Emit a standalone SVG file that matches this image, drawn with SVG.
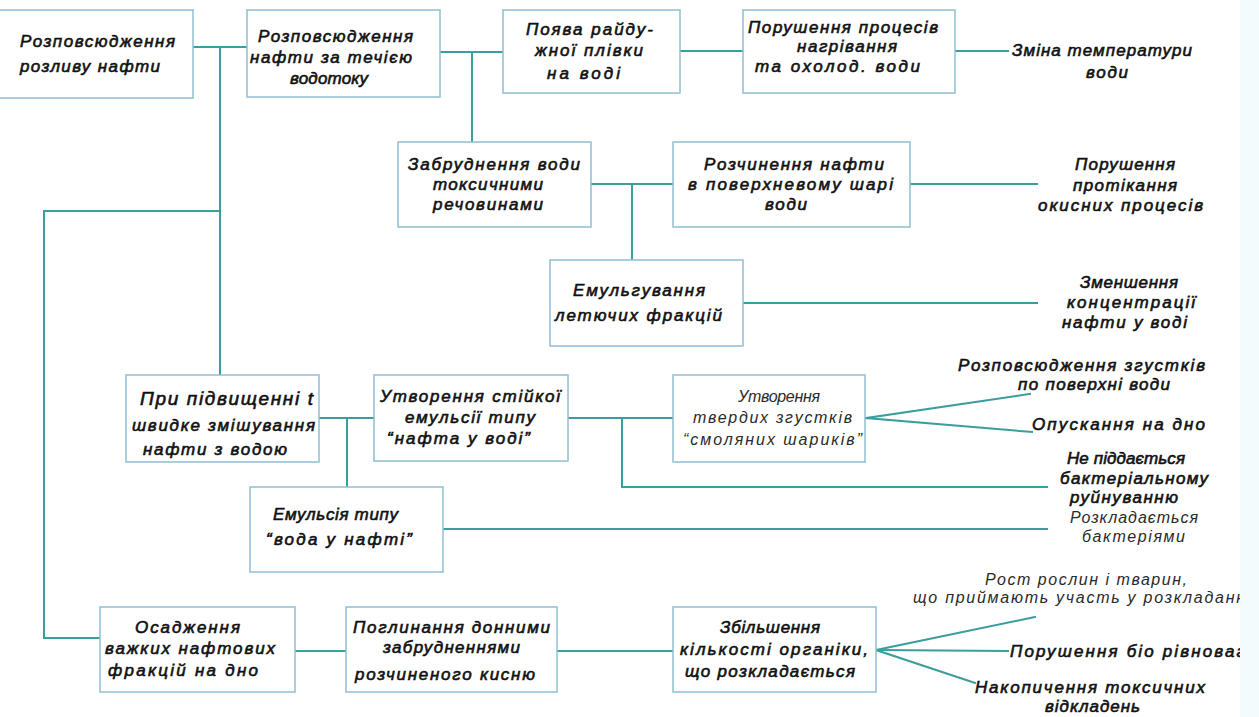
<svg xmlns="http://www.w3.org/2000/svg" width="1259" height="717" viewBox="0 0 1259 717">
  <style>
    .box { fill: #ffffff; stroke: #8fbfd0; stroke-width: 1.5; }
    .ln { fill: none; stroke: #3a9e9c; stroke-width: 2; stroke-linecap: square; }
    text { font-family: "Liberation Sans", Arial, sans-serif; font-style: italic; font-size: 17px; fill: #111; stroke: #111; stroke-width: 0.6; }
    .thin { fill: #2a2a2a; stroke: none; font-size: 16px; }
    .big { font-size: 19px; }
  </style>
  <rect width="1259" height="717" fill="#ffffff"/>

  <!-- connectors -->
  <g id="connectors" class="ln">
    <polyline points="193,47 247,47"/>
    <polyline points="220,47 220,375"/>
    <polyline points="220,211 44,211 44,638 100,638"/>
    <polyline points="440,52 503,52"/>
    <polyline points="472,52 472,142"/>
    <polyline points="680,51 743,51"/>
    <polyline points="955,51 1008,51"/>
    <polyline points="591,184 673,184"/>
    <polyline points="632,184 632,260"/>
    <polyline points="910,184 1037,184"/>
    <polyline points="743,303 1037,303"/>
    <polyline points="319,418 374,418"/>
    <polyline points="347,418 347,487"/>
    <polyline points="568,418 673,418"/>
    <polyline points="622,418 622,487 1047,487"/>
    <polyline points="866,418 1030,394"/>
    <polyline points="866,418 1032,432"/>
    <polyline points="443,529 1047,529"/>
    <polyline points="295,651 346,651"/>
    <polyline points="557,651 673,651"/>
    <polyline points="876,650 1035,617"/>
    <polyline points="876,650 1008,651"/>
    <polyline points="876,650 975,683"/>
  </g>

  <g id="spill">
    <rect class="box" x="-2" y="10" width="195" height="88"/>
    <text x="20" y="47" textLength="155" lengthAdjust="spacing">Розповсюдження</text>
    <text x="20" y="72" textLength="140" lengthAdjust="spacing">розливу нафти</text>
  </g>

  <g id="flow">
    <rect class="box" x="247" y="10" width="193" height="87"/>
    <text x="258" y="42" textLength="155" lengthAdjust="spacing">Розповсюдження</text>
    <text x="250" y="63" textLength="162" lengthAdjust="spacing">нафти за течією</text>
    <text x="290" y="84" textLength="78" lengthAdjust="spacing">водотоку</text>
  </g>

  <g id="film">
    <rect class="box" x="503" y="10" width="177" height="83"/>
    <text x="526" y="35" textLength="127" lengthAdjust="spacing">Поява райду-</text>
    <text x="535" y="56" textLength="108" lengthAdjust="spacing">жної плівки</text>
    <text x="547" y="79" textLength="73" lengthAdjust="spacing">на воді</text>
  </g>

  <g id="heat">
    <rect class="box" x="743" y="10" width="212" height="83"/>
    <text x="748" y="33" textLength="190" lengthAdjust="spacing">Порушення процесів</text>
    <text x="797" y="52" textLength="100" lengthAdjust="spacing">нагрівання</text>
    <text x="755" y="72" textLength="165" lengthAdjust="spacing">та охолод. води</text>
  </g>

  <g id="temp">
    <text x="1012" y="56" textLength="180" lengthAdjust="spacing">Зміна температури</text>
    <text x="1086" y="78" textLength="42" lengthAdjust="spacing">води</text>
  </g>

  <g id="toxic">
    <rect class="box" x="398" y="142" width="193" height="85"/>
    <text x="408" y="170" textLength="172" lengthAdjust="spacing">Забруднення води</text>
    <text x="433" y="190" textLength="110" lengthAdjust="spacing">токсичними</text>
    <text x="433" y="210" textLength="110" lengthAdjust="spacing">речовинами</text>
  </g>

  <g id="dissolve">
    <rect class="box" x="673" y="142" width="237" height="85"/>
    <text x="704" y="170" textLength="180" lengthAdjust="spacing">Розчинення нафти</text>
    <text x="688" y="190" textLength="205" lengthAdjust="spacing">в поверхневому шарі</text>
    <text x="765" y="210" textLength="42" lengthAdjust="spacing">води</text>
  </g>

  <g id="oxid">
    <text x="1075" y="170" textLength="100" lengthAdjust="spacing">Порушення</text>
    <text x="1073" y="191" textLength="104" lengthAdjust="spacing">протікання</text>
    <text x="1038" y="211" textLength="165" lengthAdjust="spacing">окисних процесів</text>
  </g>

  <g id="emulsify">
    <rect class="box" x="550" y="260" width="193" height="86"/>
    <text x="573" y="296" textLength="132" lengthAdjust="spacing">Емульгування</text>
    <text x="555" y="321" textLength="167" lengthAdjust="spacing">летючих фракцій</text>
  </g>

  <g id="conc">
    <text x="1080" y="288" textLength="98" lengthAdjust="spacing">Зменшення</text>
    <text x="1067" y="308" textLength="128" lengthAdjust="spacing">концентрації</text>
    <text x="1062" y="328" textLength="125" lengthAdjust="spacing">нафти у воді</text>
  </g>

  <g id="mixing">
    <rect class="box" x="126" y="375" width="193" height="87"/>
    <text class="big" x="140" y="405" textLength="173" lengthAdjust="spacing">При підвищенні t</text>
    <text x="132" y="431" textLength="183" lengthAdjust="spacing">швидке змішування</text>
    <text x="143" y="455" textLength="144" lengthAdjust="spacing">нафти з водою</text>
  </g>

  <g id="oil-in-water">
    <rect class="box" x="374" y="375" width="194" height="86"/>
    <text x="380" y="402" textLength="180" lengthAdjust="spacing">Утворення стійкої</text>
    <text x="405" y="423" textLength="130" lengthAdjust="spacing">емульсії типу</text>
    <text x="387" y="444" textLength="143" lengthAdjust="spacing">“нафта у воді”</text>
  </g>

  <g id="tar-balls">
    <rect class="box" x="673" y="375" width="192" height="87"/>
    <text class="thin" x="738" y="402" textLength="82" lengthAdjust="spacing">Утворення</text>
    <text class="thin" x="693" y="423" textLength="159" lengthAdjust="spacing">твердих згустків</text>
    <text class="thin" x="683" y="445" textLength="179" lengthAdjust="spacing">“смоляних шариків”</text>
  </g>

  <g id="clots">
    <text x="958" y="371" textLength="247" lengthAdjust="spacing">Розповсюдження згустків</text>
    <text x="1018" y="390" textLength="152" lengthAdjust="spacing">по поверхні води</text>
  </g>

  <g id="sinking">
    <text x="1032" y="430" textLength="173" lengthAdjust="spacing">Опускання на дно</text>
  </g>

  <g id="no-bacteria">
    <text x="1067" y="464" textLength="118" lengthAdjust="spacing">Не піддається</text>
    <text x="1060" y="484" textLength="148" lengthAdjust="spacing">бактеріальному</text>
    <text x="1070" y="503" textLength="108" lengthAdjust="spacing">руйнуванню</text>
  </g>

  <g id="bacteria">
    <text class="thin" x="1070" y="523" textLength="128" lengthAdjust="spacing">Розкладається</text>
    <text class="thin" x="1082" y="542" textLength="103" lengthAdjust="spacing">бактеріями</text>
  </g>

  <g id="water-in-oil">
    <rect class="box" x="250" y="487" width="193" height="85"/>
    <text x="273" y="520" textLength="125" lengthAdjust="spacing">Емульсія типу</text>
    <text x="266" y="545" textLength="146" lengthAdjust="spacing">“вода у нафті”</text>
  </g>

  <g id="sediment">
    <rect class="box" x="100" y="607" width="195" height="85"/>
    <text x="135" y="633" textLength="105" lengthAdjust="spacing">Осадження</text>
    <text x="105" y="654" textLength="170" lengthAdjust="spacing">важких нафтових</text>
    <text x="108" y="676" textLength="150" lengthAdjust="spacing">фракцій на дно</text>
  </g>

  <g id="oxygen">
    <rect class="box" x="346" y="607" width="211" height="85"/>
    <text x="353" y="633" textLength="197" lengthAdjust="spacing">Поглинання донними</text>
    <text x="383" y="653" textLength="137" lengthAdjust="spacing">забрудненнями</text>
    <text x="355" y="680" textLength="180" lengthAdjust="spacing">розчиненого кисню</text>
  </g>

  <g id="organics">
    <rect class="box" x="673" y="607" width="203" height="85"/>
    <text x="720" y="633" textLength="100" lengthAdjust="spacing">Збільшення</text>
    <text x="680" y="655" textLength="188" lengthAdjust="spacing">кількості органіки,</text>
    <text x="685" y="677" textLength="170" lengthAdjust="spacing">що розкладається</text>
  </g>

  <g id="growth">
    <text class="thin" x="985" y="585" textLength="202" lengthAdjust="spacing">Рост рослин і тварин,</text>
    <text class="thin" x="913" y="603" textLength="332" lengthAdjust="spacing">що приймають участь у розкладанн</text>
  </g>

  <g id="balance">
    <text x="1010" y="657" textLength="235" lengthAdjust="spacing">Порушення біо рівноваг</text>
  </g>

  <g id="deposits">
    <text x="975" y="693" textLength="230" lengthAdjust="spacing">Накопичення токсичних</text>
    <text x="1045" y="712" textLength="95" lengthAdjust="spacing">відкладень</text>
  </g>

  <!-- pale margin strip on the right -->
  <rect x="1240" y="0" width="19" height="717" fill="#f3fbfd"/>
</svg>
